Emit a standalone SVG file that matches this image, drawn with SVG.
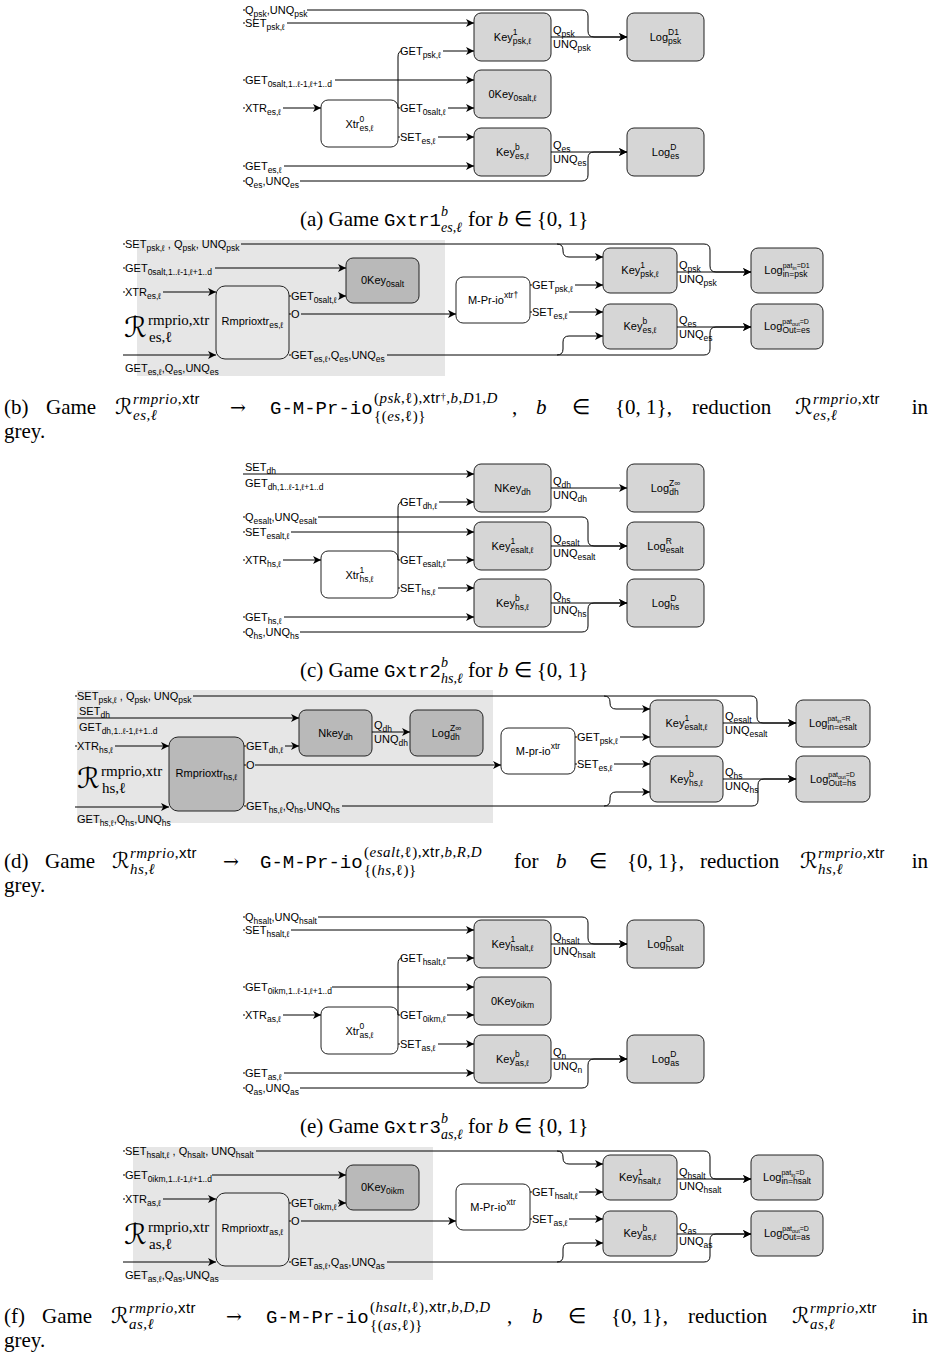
<svg xmlns="http://www.w3.org/2000/svg" width="936" height="1362" viewBox="0 0 936 1362">
<defs>
<marker id="ah" markerUnits="userSpaceOnUse" markerWidth="9" markerHeight="8" refX="8" refY="4" orient="auto">
<path d="M0,0 L8,4 L0,8 L2.2,4 Z" fill="#000" stroke="none"/>
</marker>
<style>
.ln{fill:none;stroke:#000;stroke-width:1;marker-end:url(#ah)}
.bx{fill:#d6d6d6;stroke:#222;stroke-width:1}
.dk{fill:#b9b9b9;stroke:#222;stroke-width:1}
.wh{fill:#fff;stroke:#222;stroke-width:1}
.lt{fill:#e8e8e8;stroke:#222;stroke-width:1}
.gr{fill:#e6e6e6;stroke:none}
.t{font-family:"Liberation Sans",Arial,sans-serif;font-size:11px;fill:#000;stroke:none}
.s{font-size:8.5px}
.ss{font-size:7px}
.s5{font-size:5.5px}
.c{text-anchor:middle}
.cap{font-family:"Liberation Serif","Times New Roman",serif;font-size:21px;fill:#000}
.tt{font-family:"Liberation Mono","Courier New",monospace;font-size:19px}
.i{font-style:italic}
.sup{font-size:15px;letter-spacing:0.5px}
.m{font-size:14px}
.sf{font-family:"Liberation Sans",Arial,sans-serif}
.cal{font-family:"DejaVu Serif","DejaVu Sans",serif}
.calc{font-family:"DejaVu Serif","DejaVu Sans",serif;font-size:22px}
.arw{font-family:"DejaVu Serif","DejaVu Sans",serif;font-size:19px}
.rl{font-family:"Liberation Serif","Times New Roman",serif;font-size:15px;fill:#000}
.rbig{font-family:"DejaVu Serif","DejaVu Sans",serif;font-size:28px;fill:#000}
</style>
</defs>
<rect width="936" height="1362" fill="#fff"/>

<!-- ================= Panel (a) ================= -->
<g id="a-key1-psk"><rect class="bx" x="474" y="13" width="77" height="48" rx="7"/><text class="t c" x="512.5" y="41">Key<tspan class="s" dy="-6">1</tspan><tspan class="s" dx="-4.7" dy="9">psk,ℓ</tspan></text></g>
<g id="a-0key-0salt"><rect class="bx" x="474" y="70" width="77" height="48" rx="7"/><text class="t c" x="512.5" y="98">0Key<tspan class="s" dy="3">0salt,ℓ</tspan></text></g>
<g id="a-keyb-es"><rect class="bx" x="474" y="128" width="77" height="48" rx="7"/><text class="t c" x="512.5" y="156">Key<tspan class="s" dy="-6">b</tspan><tspan class="s" dx="-4.7" dy="9">es,ℓ</tspan></text></g>
<g id="a-log-psk"><rect class="bx" x="627" y="13" width="77" height="48" rx="7"/><text class="t c" x="665.5" y="41">Log<tspan class="s" dy="-6">D1</tspan><tspan class="s" dx="-10.8" dy="9">psk</tspan></text></g>
<g id="a-log-es"><rect class="bx" x="627" y="128" width="77" height="48" rx="7"/><text class="t c" x="665.5" y="156">Log<tspan class="s" dy="-6">D</tspan><tspan class="s" dx="-6.1" dy="9">es</tspan></text></g>
<g id="a-xtr"><rect class="wh" x="321" y="100" width="77" height="47" rx="7"/><text class="t c" x="359.5" y="128">Xtr<tspan class="s" dy="-6">0</tspan><tspan class="s" dx="-4.7" dy="9">es,ℓ</tspan></text></g>
<g id="a-edges" class="ln">
<path d="M243,10h2M307,10H582Q588,10 588,16V31Q588,37 594,37H627"/>
<path d="M243,23h2M287,23H474"/>
<path d="M398,108V57Q398,51 402,51M443,51H474"/>
<path d="M243,80h2M335,80H474"/>
<path d="M243,108h2M283,108H321"/>
<path d="M398,108h2M448,108H474"/>
<path d="M398,137h2M438,137H474"/>
<path d="M243,166h2M284,166H474"/>
<path d="M243,181h2M300,181H582Q588,181 588,175V158Q588,152 594,152H627"/>
<path d="M551,37H627"/>
<path d="M551,152H627"/>
<text class="t" x="245" y="13.5">Q<tspan class="s" dy="3">psk</tspan><tspan dy="-3">,UNQ</tspan><tspan class="s" dy="3">psk</tspan></text>
<text class="t" x="245" y="26.5">SET<tspan class="s" dy="3">psk,ℓ</tspan></text>
<text class="t" x="400" y="54.5">GET<tspan class="s" dy="3">psk,ℓ</tspan></text>
<text class="t" x="245" y="83.5">GET<tspan class="s" dy="3">0salt,1..ℓ-1,ℓ+1..d</tspan></text>
<text class="t" x="245" y="111.5">XTR<tspan class="s" dy="3">es,ℓ</tspan></text>
<text class="t" x="400" y="111.5">GET<tspan class="s" dy="3">0salt,ℓ</tspan></text>
<text class="t" x="400" y="140.5">SET<tspan class="s" dy="3">es,ℓ</tspan></text>
<text class="t" x="245" y="169.5">GET<tspan class="s" dy="3">es,ℓ</tspan></text>
<text class="t" x="245" y="184.5">Q<tspan class="s" dy="3">es</tspan><tspan dy="-3">,UNQ</tspan><tspan class="s" dy="3">es</tspan></text>
<text class="t" x="553" y="34">Q<tspan class="s" dy="3">psk</tspan></text>
<text class="t" x="553" y="48">UNQ<tspan class="s" dy="3">psk</tspan></text>
<text class="t" x="553" y="149">Q<tspan class="s" dy="3">es</tspan></text>
<text class="t" x="553" y="163">UNQ<tspan class="s" dy="3">es</tspan></text>
</g>
<g id="a-caption">
<text class="cap" x="300" y="226">(a) Game <tspan class="tt">Gxtr1</tspan></text>
<text class="cap m i" x="441" y="216">b</text>
<text class="cap m i" x="441" y="232">es,ℓ</text>
<text class="cap" x="468" y="226">for <tspan class="i">b</tspan> ∈ {0, 1}</text>
</g>

<!-- ================= Panel (b) ================= -->
<rect class="gr" x="137" y="240" width="308" height="136"/>
<g id="b-0key-0salt"><rect class="dk" x="346" y="258" width="73" height="45" rx="7"/><text class="t c" x="382.5" y="284">0Key<tspan class="s" dy="3">0salt</tspan></text></g>
<g id="b-rmprioxtr"><rect class="lt" x="216" y="286" width="73" height="73" rx="9"/><text class="t c" x="252.5" y="325">Rmprioxtr<tspan class="s" dy="3">es,ℓ</tspan></text></g>
<g id="b-mprio"><rect class="wh" x="456" y="277" width="74" height="46" rx="7"/><text class="t c" x="493" y="304">M-Pr-io<tspan class="s" dy="-6">xtr†</tspan></text></g>
<g id="b-key1-psk"><rect class="bx" x="603" y="248" width="74" height="45" rx="7"/><text class="t c" x="640" y="274">Key<tspan class="s" dy="-6">1</tspan><tspan class="s" dx="-4.7" dy="9">psk,ℓ</tspan></text></g>
<g id="b-keyb-es"><rect class="bx" x="603" y="304" width="74" height="45" rx="7"/><text class="t c" x="640" y="330">Key<tspan class="s" dy="-6">b</tspan><tspan class="s" dx="-4.7" dy="9">es,ℓ</tspan></text></g>
<g id="b-log-in"><rect class="bx" x="751" y="248" width="72" height="45" rx="7"/><text class="t c" x="787" y="274">Log<tspan class="ss" dy="-6">pat</tspan><tspan class="s5" dy="2">in</tspan><tspan class="ss" dy="-2">=D1</tspan><tspan class="s" dx="-27" dy="8.5">in=psk</tspan></text></g>
<g id="b-log-out"><rect class="bx" x="751" y="304" width="72" height="45" rx="7"/><text class="t c" x="787" y="330">Log<tspan class="ss" dy="-6">pat</tspan><tspan class="s5" dy="2">out</tspan><tspan class="ss" dy="-2">=D</tspan><tspan class="s" dx="-26.5" dy="8.5">Out=es</tspan></text></g>
<g id="b-edges" class="ln">
<path d="M123,244h2M241,244H704Q710,244 710,250V266Q710,272 716,272H751"/>
<path d="M557,244Q563,244 563,250V251Q563,257 569,257H603"/>
<path d="M123,268h2M215,268H346"/>
<path d="M123,292h2M163,292H216"/>
<path d="M123,355H216"/>
<path d="M289,296h2M339,296H346"/>
<path d="M289,314h2M301,314H456"/>
<path d="M289,355h2M387,355H704Q710,355 710,349V333Q710,327 716,327H751"/>
<path d="M557,355Q563,355 563,349V342Q563,336 569,336H603"/>
<path d="M530,285h2M575,285H603"/>
<path d="M530,312h2M569,312H603"/>
<path d="M677,272H751"/>
<path d="M677,327H751"/>
<text class="t" x="125" y="247.5">SET<tspan class="s" dy="3">psk,ℓ</tspan><tspan dy="-3"> , Q</tspan><tspan class="s" dy="3">psk</tspan><tspan dy="-3">, UNQ</tspan><tspan class="s" dy="3">psk</tspan></text>
<text class="t" x="125" y="271.5">GET<tspan class="s" dy="3">0salt,1..ℓ-1,ℓ+1..d</tspan></text>
<text class="t" x="125" y="295.5">XTR<tspan class="s" dy="3">es,ℓ</tspan></text>
<text class="t" x="125" y="372">GET<tspan class="s" dy="3">es,ℓ</tspan><tspan dy="-3">,Q</tspan><tspan class="s" dy="3">es</tspan><tspan dy="-3">,UNQ</tspan><tspan class="s" dy="3">es</tspan></text>
<text class="t" x="291" y="299.5">GET<tspan class="s" dy="3">0salt,ℓ</tspan></text>
<text class="t" x="291" y="317.5">O</text>
<text class="t" x="291" y="358.5">GET<tspan class="s" dy="3">es,ℓ</tspan><tspan dy="-3">,Q</tspan><tspan class="s" dy="3">es</tspan><tspan dy="-3">,UNQ</tspan><tspan class="s" dy="3">es</tspan></text>
<text class="t" x="532" y="288.5">GET<tspan class="s" dy="3">psk,ℓ</tspan></text>
<text class="t" x="532" y="315.5">SET<tspan class="s" dy="3">es,ℓ</tspan></text>
<text class="t" x="679" y="269">Q<tspan class="s" dy="3">psk</tspan></text>
<text class="t" x="679" y="283">UNQ<tspan class="s" dy="3">psk</tspan></text>
<text class="t" x="679" y="324">Q<tspan class="s" dy="3">es</tspan></text>
<text class="t" x="679" y="338">UNQ<tspan class="s" dy="3">es</tspan></text>
</g>
<g id="b-reduction-label"><text class="rbig" x="124" y="337">ℛ</text><text class="rl" x="148" y="325">rmprio,xtr</text><text class="rl" x="149" y="342">es,ℓ</text></g>
<g id="b-caption">
<text class="cap" x="4" y="414">(b)</text>
<text class="cap" x="46" y="414">Game</text>
<text class="cap calc" x="115" y="414">ℛ</text>
<text class="cap sup" x="133" y="404"><tspan class="i">rmprio</tspan>,<tspan class="sf">xtr</tspan></text>
<text class="cap sup i" x="133" y="420">es,ℓ</text>
<text class="cap arw" x="230" y="414">→</text>
<text class="cap tt" x="270" y="414">G-M-Pr-io</text>
<text class="cap sup" x="374" y="403">(<tspan class="i">psk</tspan>,ℓ),<tspan class="sf">xtr</tspan><tspan dy="-3" style="font-size:10px">†</tspan><tspan dy="3">,</tspan><tspan class="i">b</tspan>,<tspan class="i">D</tspan>1,<tspan class="i">D</tspan></text>
<text class="cap sup" x="374" y="421">{(<tspan class="i">es</tspan>,ℓ)}</text>
<text class="cap" x="512" y="414">,</text>
<text class="cap i" x="536" y="414">b</text>
<text class="cap" x="572" y="414">∈</text>
<text class="cap" x="615" y="414">{0, 1},</text>
<text class="cap" x="692" y="414">reduction</text>
<text class="cap calc" x="795" y="414">ℛ</text>
<text class="cap sup" x="813" y="404"><tspan class="i">rmprio</tspan>,<tspan class="sf">xtr</tspan></text>
<text class="cap sup i" x="813" y="420">es,ℓ</text>
<text class="cap" x="928" y="414" text-anchor="end">in</text>
<text class="cap" x="4" y="438">grey.</text>
</g>

<!-- ================= Panel (c) ================= -->
<g id="c-nkey-dh"><rect class="bx" x="474" y="464" width="77" height="48" rx="7"/><text class="t c" x="512.5" y="492">NKey<tspan class="s" dy="3">dh</tspan></text></g>
<g id="c-key1-esalt"><rect class="bx" x="474" y="522" width="77" height="48" rx="7"/><text class="t c" x="512.5" y="550">Key<tspan class="s" dy="-6">1</tspan><tspan class="s" dx="-4.7" dy="9">esalt,ℓ</tspan></text></g>
<g id="c-keyb-hs"><rect class="bx" x="474" y="579" width="77" height="48" rx="7"/><text class="t c" x="512.5" y="607">Key<tspan class="s" dy="-6">b</tspan><tspan class="s" dx="-4.7" dy="9">hs,ℓ</tspan></text></g>
<g id="c-log-dh"><rect class="bx" x="627" y="464" width="77" height="48" rx="7"/><text class="t c" x="665.5" y="492">Log<tspan class="s" dy="-6">Z∞</tspan><tspan class="s" dx="-11" dy="9">dh</tspan></text></g>
<g id="c-log-esalt"><rect class="bx" x="627" y="522" width="77" height="48" rx="7"/><text class="t c" x="665.5" y="550">Log<tspan class="s" dy="-6">R</tspan><tspan class="s" dx="-6.1" dy="9">esalt</tspan></text></g>
<g id="c-log-hs"><rect class="bx" x="627" y="579" width="77" height="48" rx="7"/><text class="t c" x="665.5" y="607">Log<tspan class="s" dy="-6">D</tspan><tspan class="s" dx="-6.1" dy="9">hs</tspan></text></g>
<g id="c-xtr"><rect class="wh" x="321" y="551" width="77" height="47" rx="7"/><text class="t c" x="359.5" y="579">Xtr<tspan class="s" dy="-6">1</tspan><tspan class="s" dx="-4.7" dy="9">hs,ℓ</tspan></text></g>
<g id="c-edges" class="ln">
<path d="M243,474H474"/>
<path d="M398,560V508Q398,502 402,502M439,502H474"/>
<path d="M243,517h2M318,517H582Q588,517 588,523V540Q588,546 594,546H627"/>
<path d="M243,532h2M291,532H474"/>
<path d="M243,560h2M283,560H321"/>
<path d="M398,560h2M447,560H474"/>
<path d="M398,588h2M438,588H474"/>
<path d="M243,617h2M284,617H474"/>
<path d="M243,632h2M300,632H582Q588,632 588,626V609Q588,603 594,603H627"/>
<path d="M551,488H627"/>
<path d="M551,546H627"/>
<path d="M551,603H627"/>
<text class="t" x="245" y="470.5">SET<tspan class="s" dy="3">dh</tspan></text>
<text class="t" x="245" y="486.5">GET<tspan class="s" dy="3">dh,1..ℓ-1,ℓ+1..d</tspan></text>
<text class="t" x="400" y="505.5">GET<tspan class="s" dy="3">dh,ℓ</tspan></text>
<text class="t" x="245" y="520.5">Q<tspan class="s" dy="3">esalt</tspan><tspan dy="-3">,UNQ</tspan><tspan class="s" dy="3">esalt</tspan></text>
<text class="t" x="245" y="535.5">SET<tspan class="s" dy="3">esalt,ℓ</tspan></text>
<text class="t" x="245" y="563.5">XTR<tspan class="s" dy="3">hs,ℓ</tspan></text>
<text class="t" x="400" y="563.5">GET<tspan class="s" dy="3">esalt,ℓ</tspan></text>
<text class="t" x="400" y="591.5">SET<tspan class="s" dy="3">hs,ℓ</tspan></text>
<text class="t" x="245" y="620.5">GET<tspan class="s" dy="3">hs,ℓ</tspan></text>
<text class="t" x="245" y="635.5">Q<tspan class="s" dy="3">hs</tspan><tspan dy="-3">,UNQ</tspan><tspan class="s" dy="3">hs</tspan></text>
<text class="t" x="553" y="485">Q<tspan class="s" dy="3">dh</tspan></text>
<text class="t" x="553" y="499">UNQ<tspan class="s" dy="3">dh</tspan></text>
<text class="t" x="553" y="543">Q<tspan class="s" dy="3">esalt</tspan></text>
<text class="t" x="553" y="557">UNQ<tspan class="s" dy="3">esalt</tspan></text>
<text class="t" x="553" y="600">Q<tspan class="s" dy="3">hs</tspan></text>
<text class="t" x="553" y="614">UNQ<tspan class="s" dy="3">hs</tspan></text>
</g>
<g id="c-caption">
<text class="cap" x="300" y="677">(c) Game <tspan class="tt">Gxtr2</tspan></text>
<text class="cap m i" x="441" y="667">b</text>
<text class="cap m i" x="441" y="683">hs,ℓ</text>
<text class="cap" x="468" y="677">for <tspan class="i">b</tspan> ∈ {0, 1}</text>
</g>

<!-- ================= Panel (d) ================= -->
<rect class="gr" x="77" y="690" width="416" height="133"/>
<g id="d-nkey-dh"><rect class="dk" x="299" y="710" width="73" height="46" rx="7"/><text class="t c" x="335.5" y="737">Nkey<tspan class="s" dy="3">dh</tspan></text></g>
<g id="d-log-dh"><rect class="dk" x="410" y="710" width="73" height="46" rx="7"/><text class="t c" x="446.5" y="737">Log<tspan class="s" dy="-6">Z∞</tspan><tspan class="s" dx="-11" dy="9">dh</tspan></text></g>
<g id="d-rmprioxtr"><rect class="dk" x="169" y="737" width="75" height="74" rx="9"/><text class="t c" x="206.5" y="777">Rmprioxtr<tspan class="s" dy="3">hs,ℓ</tspan></text></g>
<g id="d-mprio"><rect class="wh" x="501" y="728" width="74" height="46" rx="7"/><text class="t c" x="538" y="755">M-pr-io<tspan class="s" dy="-6">xtr</tspan></text></g>
<g id="d-key1-esalt"><rect class="bx" x="650" y="700" width="73" height="47" rx="7"/><text class="t c" x="686.5" y="727">Key<tspan class="s" dy="-6">1</tspan><tspan class="s" dx="-4.7" dy="9">esalt,ℓ</tspan></text></g>
<g id="d-keyb-hs"><rect class="bx" x="650" y="756" width="73" height="46" rx="7"/><text class="t c" x="686.5" y="783">Key<tspan class="s" dy="-6">b</tspan><tspan class="s" dx="-4.7" dy="9">hs,ℓ</tspan></text></g>
<g id="d-log-in"><rect class="bx" x="796" y="700" width="74" height="47" rx="7"/><text class="t c" x="833" y="727">Log<tspan class="ss" dy="-6">pat</tspan><tspan class="s5" dy="2">in</tspan><tspan class="ss" dy="-2">=R</tspan><tspan class="s" dx="-23.2" dy="8.5">in=esalt</tspan></text></g>
<g id="d-log-out"><rect class="bx" x="796" y="756" width="74" height="46" rx="7"/><text class="t c" x="833" y="783">Log<tspan class="ss" dy="-6">pat</tspan><tspan class="s5" dy="2">out</tspan><tspan class="ss" dy="-2">=D</tspan><tspan class="s" dx="-26.5" dy="8.5">Out=hs</tspan></text></g>
<g id="d-edges" class="ln">
<path d="M75,696h2M193,696H751Q757,696 757,702V717Q757,723 763,723H796"/>
<path d="M604,696Q610,696 610,702V703Q610,709 616,709H650"/>
<path d="M77,718H299"/>
<path d="M75,746h2M115,746H169"/>
<path d="M244,746h2M285,746H299"/>
<path d="M372,732H410"/>
<path d="M244,765h2M255,765H501"/>
<path d="M244,806h2M342,806H752Q758,806 758,800V785Q758,779 764,779H796"/>
<path d="M604,806Q610,806 610,800V798Q610,792 616,792H650"/>
<path d="M75,807H169"/>
<path d="M575,737h2M620,737H650"/>
<path d="M575,764h2M614,764H650"/>
<path d="M723,723H796"/>
<path d="M723,779H796"/>
<text class="t" x="77" y="699.5">SET<tspan class="s" dy="3">psk,ℓ</tspan><tspan dy="-3"> , Q</tspan><tspan class="s" dy="3">psk</tspan><tspan dy="-3">, UNQ</tspan><tspan class="s" dy="3">psk</tspan></text>
<text class="t" x="79" y="715">SET<tspan class="s" dy="3">dh</tspan></text>
<text class="t" x="79" y="731">GET<tspan class="s" dy="3">dh,1..ℓ-1,ℓ+1..d</tspan></text>
<text class="t" x="77" y="749.5">XTR<tspan class="s" dy="3">hs,ℓ</tspan></text>
<text class="t" x="246" y="749.5">GET<tspan class="s" dy="3">dh,ℓ</tspan></text>
<text class="t" x="246" y="768.5">O</text>
<text class="t" x="246" y="809.5">GET<tspan class="s" dy="3">hs,ℓ</tspan><tspan dy="-3">,Q</tspan><tspan class="s" dy="3">hs</tspan><tspan dy="-3">,UNQ</tspan><tspan class="s" dy="3">hs</tspan></text>
<text class="t" x="77" y="823">GET<tspan class="s" dy="3">hs,ℓ</tspan><tspan dy="-3">,Q</tspan><tspan class="s" dy="3">hs</tspan><tspan dy="-3">,UNQ</tspan><tspan class="s" dy="3">hs</tspan></text>
<text class="t" x="374" y="729">Q<tspan class="s" dy="3">dh</tspan></text>
<text class="t" x="374" y="743">UNQ<tspan class="s" dy="3">dh</tspan></text>
<text class="t" x="577" y="740.5">GET<tspan class="s" dy="3">psk,ℓ</tspan></text>
<text class="t" x="577" y="767.5">SET<tspan class="s" dy="3">es,ℓ</tspan></text>
<text class="t" x="725" y="720">Q<tspan class="s" dy="3">esalt</tspan></text>
<text class="t" x="725" y="734">UNQ<tspan class="s" dy="3">esalt</tspan></text>
<text class="t" x="725" y="776">Q<tspan class="s" dy="3">hs</tspan></text>
<text class="t" x="725" y="790">UNQ<tspan class="s" dy="3">hs</tspan></text>
</g>
<g id="d-reduction-label"><text class="rbig" x="77" y="788">ℛ</text><text class="rl" x="101" y="776">rmprio,xtr</text><text class="rl" x="102" y="793">hs,ℓ</text></g>
<g id="d-caption">
<text class="cap" x="4" y="868">(d)</text>
<text class="cap" x="45" y="868">Game</text>
<text class="cap calc" x="112" y="868">ℛ</text>
<text class="cap sup" x="130" y="858"><tspan class="i">rmprio</tspan>,<tspan class="sf">xtr</tspan></text>
<text class="cap sup i" x="130" y="874">hs,ℓ</text>
<text class="cap arw" x="223" y="868">→</text>
<text class="cap tt" x="260" y="868">G-M-Pr-io</text>
<text class="cap sup" x="364" y="857">(<tspan class="i">esalt</tspan>,ℓ),<tspan class="sf">xtr</tspan>,<tspan class="i">b</tspan>,<tspan class="i">R</tspan>,<tspan class="i">D</tspan></text>
<text class="cap sup" x="364" y="875">{(<tspan class="i">hs</tspan>,ℓ)}</text>
<text class="cap" x="514" y="868">for</text>
<text class="cap i" x="556" y="868">b</text>
<text class="cap" x="589" y="868">∈</text>
<text class="cap" x="627" y="868">{0, 1},</text>
<text class="cap" x="700" y="868">reduction</text>
<text class="cap calc" x="800" y="868">ℛ</text>
<text class="cap sup" x="818" y="858"><tspan class="i">rmprio</tspan>,<tspan class="sf">xtr</tspan></text>
<text class="cap sup i" x="818" y="874">hs,ℓ</text>
<text class="cap" x="928" y="868" text-anchor="end">in</text>
<text class="cap" x="4" y="892">grey.</text>
</g>

<!-- ================= Panel (e) ================= -->
<g id="e-key1-hsalt"><rect class="bx" x="474" y="920" width="77" height="48" rx="7"/><text class="t c" x="512.5" y="948">Key<tspan class="s" dy="-6">1</tspan><tspan class="s" dx="-4.7" dy="9">hsalt,ℓ</tspan></text></g>
<g id="e-0key-0ikm"><rect class="bx" x="474" y="977" width="77" height="48" rx="7"/><text class="t c" x="512.5" y="1005">0Key<tspan class="s" dy="3">0ikm</tspan></text></g>
<g id="e-keyb-as"><rect class="bx" x="474" y="1035" width="77" height="48" rx="7"/><text class="t c" x="512.5" y="1063">Key<tspan class="s" dy="-6">b</tspan><tspan class="s" dx="-4.7" dy="9">as,ℓ</tspan></text></g>
<g id="e-log-hsalt"><rect class="bx" x="627" y="920" width="77" height="48" rx="7"/><text class="t c" x="665.5" y="948">Log<tspan class="s" dy="-6">D</tspan><tspan class="s" dx="-6.1" dy="9">hsalt</tspan></text></g>
<g id="e-log-as"><rect class="bx" x="627" y="1035" width="77" height="48" rx="7"/><text class="t c" x="665.5" y="1063">Log<tspan class="s" dy="-6">D</tspan><tspan class="s" dx="-6.1" dy="9">as</tspan></text></g>
<g id="e-xtr"><rect class="wh" x="321" y="1007" width="77" height="47" rx="7"/><text class="t c" x="359.5" y="1035">Xtr<tspan class="s" dy="-6">0</tspan><tspan class="s" dx="-4.7" dy="9">as,ℓ</tspan></text></g>
<g id="e-edges" class="ln">
<path d="M243,917h2M318,917H582Q588,917 588,923V938Q588,944 594,944H627"/>
<path d="M243,930h2M291,930H474"/>
<path d="M398,1015V964Q398,958 402,958M447,958H474"/>
<path d="M243,987h2M332,987H474"/>
<path d="M243,1015h2M283,1015H321"/>
<path d="M398,1015h2M447,1015H474"/>
<path d="M398,1044h2M438,1044H474"/>
<path d="M243,1073h2M284,1073H474"/>
<path d="M243,1088h2M300,1088H582Q588,1088 588,1082V1065Q588,1059 594,1059H627"/>
<path d="M551,944H627"/>
<path d="M551,1059H627"/>
<text class="t" x="245" y="920.5">Q<tspan class="s" dy="3">hsalt</tspan><tspan dy="-3">,UNQ</tspan><tspan class="s" dy="3">hsalt</tspan></text>
<text class="t" x="245" y="933.5">SET<tspan class="s" dy="3">hsalt,ℓ</tspan></text>
<text class="t" x="400" y="961.5">GET<tspan class="s" dy="3">hsalt,ℓ</tspan></text>
<text class="t" x="245" y="990.5">GET<tspan class="s" dy="3">0ikm,1..ℓ-1,ℓ+1..d</tspan></text>
<text class="t" x="245" y="1018.5">XTR<tspan class="s" dy="3">as,ℓ</tspan></text>
<text class="t" x="400" y="1018.5">GET<tspan class="s" dy="3">0ikm,ℓ</tspan></text>
<text class="t" x="400" y="1047.5">SET<tspan class="s" dy="3">as,ℓ</tspan></text>
<text class="t" x="245" y="1076.5">GET<tspan class="s" dy="3">as,ℓ</tspan></text>
<text class="t" x="245" y="1091.5">Q<tspan class="s" dy="3">as</tspan><tspan dy="-3">,UNQ</tspan><tspan class="s" dy="3">as</tspan></text>
<text class="t" x="553" y="941">Q<tspan class="s" dy="3">hsalt</tspan></text>
<text class="t" x="553" y="955">UNQ<tspan class="s" dy="3">hsalt</tspan></text>
<text class="t" x="553" y="1056">Q<tspan class="s" dy="3">n</tspan></text>
<text class="t" x="553" y="1070">UNQ<tspan class="s" dy="3">n</tspan></text>
</g>
<g id="e-caption">
<text class="cap" x="300" y="1133">(e) Game <tspan class="tt">Gxtr3</tspan></text>
<text class="cap m i" x="441" y="1123">b</text>
<text class="cap m i" x="441" y="1139">as,ℓ</text>
<text class="cap" x="468" y="1133">for <tspan class="i">b</tspan> ∈ {0, 1}</text>
</g>

<!-- ================= Panel (f) ================= -->
<rect class="gr" x="133" y="1147" width="300" height="133"/>
<g id="f-0key-0ikm"><rect class="dk" x="346" y="1165" width="73" height="45" rx="7"/><text class="t c" x="382.5" y="1191">0Key<tspan class="s" dy="3">0ikm</tspan></text></g>
<g id="f-rmprioxtr"><rect class="lt" x="216" y="1193" width="73" height="73" rx="9"/><text class="t c" x="252.5" y="1232">Rmprioxtr<tspan class="s" dy="3">as,ℓ</tspan></text></g>
<g id="f-mprio"><rect class="wh" x="456" y="1184" width="74" height="46" rx="7"/><text class="t c" x="493" y="1211">M-Pr-io<tspan class="s" dy="-6">xtr</tspan></text></g>
<g id="f-key1-hsalt"><rect class="bx" x="603" y="1155" width="74" height="45" rx="7"/><text class="t c" x="640" y="1181">Key<tspan class="s" dy="-6">1</tspan><tspan class="s" dx="-4.7" dy="9">hsalt,ℓ</tspan></text></g>
<g id="f-keyb-as"><rect class="bx" x="603" y="1211" width="74" height="45" rx="7"/><text class="t c" x="640" y="1237">Key<tspan class="s" dy="-6">b</tspan><tspan class="s" dx="-4.7" dy="9">as,ℓ</tspan></text></g>
<g id="f-log-in"><rect class="bx" x="751" y="1155" width="72" height="45" rx="7"/><text class="t c" x="787" y="1181">Log<tspan class="ss" dy="-6">pat</tspan><tspan class="s5" dy="2">in</tspan><tspan class="ss" dy="-2">=D</tspan><tspan class="s" dx="-23.2" dy="8.5">in=hsalt</tspan></text></g>
<g id="f-log-out"><rect class="bx" x="751" y="1211" width="72" height="45" rx="7"/><text class="t c" x="787" y="1237">Log<tspan class="ss" dy="-6">pat</tspan><tspan class="s5" dy="2">out</tspan><tspan class="ss" dy="-2">=D</tspan><tspan class="s" dx="-26.5" dy="8.5">Out=as</tspan></text></g>
<g id="f-edges" class="ln">
<path d="M123,1151h2M256,1151H704Q710,1151 710,1157V1173Q710,1179 716,1179H751"/>
<path d="M557,1151Q563,1151 563,1157V1158Q563,1164 569,1164H603"/>
<path d="M123,1175h2M212,1175H346"/>
<path d="M123,1199h2M163,1199H216"/>
<path d="M123,1262H216"/>
<path d="M289,1203h2M338,1203H346"/>
<path d="M289,1221h2M301,1221H456"/>
<path d="M289,1262h2M387,1262H704Q710,1262 710,1256V1240Q710,1234 716,1234H751"/>
<path d="M557,1262Q563,1262 563,1256V1249Q563,1243 569,1243H603"/>
<path d="M530,1192h2M579,1192H603"/>
<path d="M530,1219h2M569,1219H603"/>
<path d="M677,1179H751"/>
<path d="M677,1234H751"/>
<text class="t" x="125" y="1154.5">SET<tspan class="s" dy="3">hsalt,ℓ</tspan><tspan dy="-3"> , Q</tspan><tspan class="s" dy="3">hsalt</tspan><tspan dy="-3">, UNQ</tspan><tspan class="s" dy="3">hsalt</tspan></text>
<text class="t" x="125" y="1178.5">GET<tspan class="s" dy="3">0ikm,1..ℓ-1,ℓ+1..d</tspan></text>
<text class="t" x="125" y="1202.5">XTR<tspan class="s" dy="3">as,ℓ</tspan></text>
<text class="t" x="125" y="1279">GET<tspan class="s" dy="3">as,ℓ</tspan><tspan dy="-3">,Q</tspan><tspan class="s" dy="3">as</tspan><tspan dy="-3">,UNQ</tspan><tspan class="s" dy="3">as</tspan></text>
<text class="t" x="291" y="1206.5">GET<tspan class="s" dy="3">0ikm,ℓ</tspan></text>
<text class="t" x="291" y="1224.5">O</text>
<text class="t" x="291" y="1265.5">GET<tspan class="s" dy="3">as,ℓ</tspan><tspan dy="-3">,Q</tspan><tspan class="s" dy="3">as</tspan><tspan dy="-3">,UNQ</tspan><tspan class="s" dy="3">as</tspan></text>
<text class="t" x="532" y="1195.5">GET<tspan class="s" dy="3">hsalt,ℓ</tspan></text>
<text class="t" x="532" y="1222.5">SET<tspan class="s" dy="3">as,ℓ</tspan></text>
<text class="t" x="679" y="1176">Q<tspan class="s" dy="3">hsalt</tspan></text>
<text class="t" x="679" y="1190">UNQ<tspan class="s" dy="3">hsalt</tspan></text>
<text class="t" x="679" y="1231">Q<tspan class="s" dy="3">as</tspan></text>
<text class="t" x="679" y="1245">UNQ<tspan class="s" dy="3">as</tspan></text>
</g>
<g id="f-reduction-label"><text class="rbig" x="124" y="1244">ℛ</text><text class="rl" x="148" y="1232">rmprio,xtr</text><text class="rl" x="149" y="1249">as,ℓ</text></g>
<g id="f-caption">
<text class="cap" x="4" y="1323">(f)</text>
<text class="cap" x="42" y="1323">Game</text>
<text class="cap calc" x="111" y="1323">ℛ</text>
<text class="cap sup" x="129" y="1313"><tspan class="i">rmprio</tspan>,<tspan class="sf">xtr</tspan></text>
<text class="cap sup i" x="129" y="1329">as,ℓ</text>
<text class="cap arw" x="226" y="1323">→</text>
<text class="cap tt" x="266" y="1323">G-M-Pr-io</text>
<text class="cap sup" x="370" y="1312">(<tspan class="i">hsalt</tspan>,ℓ),<tspan class="sf">xtr</tspan>,<tspan class="i">b</tspan>,<tspan class="i">D</tspan>,<tspan class="i">D</tspan></text>
<text class="cap sup" x="370" y="1330">{(<tspan class="i">as</tspan>,ℓ)}</text>
<text class="cap" x="507" y="1323">,</text>
<text class="cap i" x="532" y="1323">b</text>
<text class="cap" x="568" y="1323">∈</text>
<text class="cap" x="611" y="1323">{0, 1},</text>
<text class="cap" x="688" y="1323">reduction</text>
<text class="cap calc" x="792" y="1323">ℛ</text>
<text class="cap sup" x="810" y="1313"><tspan class="i">rmprio</tspan>,<tspan class="sf">xtr</tspan></text>
<text class="cap sup i" x="810" y="1329">as,ℓ</text>
<text class="cap" x="928" y="1323" text-anchor="end">in</text>
<text class="cap" x="4" y="1347">grey.</text>
</g>
</svg>
